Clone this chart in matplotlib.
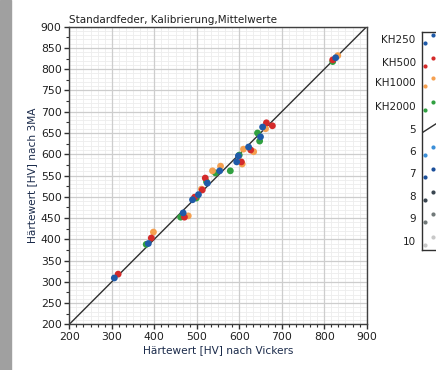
import numpy as np
import matplotlib
matplotlib.use("Agg")
import matplotlib.pyplot as plt
from matplotlib.ticker import MultipleLocator, AutoMinorLocator

# Vickers hardness (x) vs 3MA hardness (y), mean values per sample
kh250_x = [306, 386, 468, 490, 504, 525, 554, 594, 598, 622, 650, 655, 827]
kh250_y = [309, 390, 462, 493, 505, 532, 561, 582, 596, 617, 641, 664, 827]
kh500_x = [315, 393, 471, 495, 513, 520, 605, 627, 664, 678, 820]
kh500_y = [318, 403, 452, 499, 516, 544, 582, 610, 674, 667, 822]
kh1000_x = [398, 480, 511, 537, 556, 607, 610, 634, 662, 832]
kh1000_y = [417, 455, 518, 561, 572, 577, 612, 606, 660, 832]
kh2000_x = [381, 462, 499, 523, 544, 579, 600, 643, 648, 820]
kh2000_y = [388, 452, 497, 535, 556, 561, 598, 650, 631, 818]

ref_line = [200, 900]

legend_labels = ["KH250", "KH500", "KH1000", "KH2000", "5", "6", "7", "8", "9", "10"]
legend_colors = ["#1f5aa8", "#d42a2a", "#f5a050", "#30a040", "#303030",
                 "#3c8fd8", "#1b4f9a", "#3a4650", "#727a7a", "#c8c8c8"]

txt_color = "#1a2a4a"

fig = plt.figure(figsize=(4.36, 3.70), dpi=100)
fig.patches.append(plt.Rectangle((0, 0), 11 / 436, 1, transform=fig.transFigure,
                                 color="#a0a0a0", zorder=0))

ax = fig.add_axes([69.3 / 436, 45.7 / 370, 297.4 / 436, 297.6 / 370])

# grid
ax.xaxis.set_major_locator(MultipleLocator(100))
ax.xaxis.set_minor_locator(AutoMinorLocator(6))
ax.yaxis.set_major_locator(MultipleLocator(50))
ax.yaxis.set_minor_locator(MultipleLocator(25))
for v in np.arange(200, 901, 10):
    ax.axhline(v, color="#ededed", lw=0.6, zorder=0)
for v in np.arange(200, 901, 100 / 6):
    ax.axvline(v, color="#ededed", lw=0.6, zorder=0)
ax.grid(True, which="major", color="#cdcdcd", lw=0.9, zorder=0.5)

ax.plot(ref_line, ref_line, color="#303030", lw=1.0, zorder=2)

series = [(kh250_x, kh250_y), (kh500_x, kh500_y), (kh1000_x, kh1000_y), (kh2000_x, kh2000_y)]
draw_order = [3, 2, 1, 0]
for i in draw_order:
    xs, ys = series[i]
    ax.scatter(xs, ys, s=24, color=legend_colors[i], edgecolors="none", zorder=3 + (3 - i) * 0.1)

ax.set_xlim(200, 900)
ax.set_ylim(200, 900)
for s in ax.spines.values():
    s.set_color("#404040")
    s.set_linewidth(1.0)
ax.tick_params(which="major", length=3.5, width=1, color="#303030",
               labelsize=7.8, labelcolor="#202020", pad=2)
ax.tick_params(which="minor", length=2, width=0.8, color="#303030")

ax.set_title("Standardfeder, Kalibrierung,Mittelwerte", loc="left",
             fontsize=7.5, color="#202020", pad=3)
ax.set_xlabel("Härtewert [HV] nach Vickers", fontsize=7.6, color=txt_color, labelpad=2)
ax.set_ylabel("Härtewert [HV] nach 3MA", fontsize=7.6, color=txt_color, labelpad=3)

# legend block on the right, partly cut off
lax = fig.add_axes([421.7 / 436, 120 / 370, 30 / 436, 218.3 / 370])
lax.set_xlim(0, 30)
lax.set_ylim(218.3, 0)
lax.set_xticks([])
lax.set_yticks([])
for s in lax.spines.values():
    s.set_color("#303030")
    s.set_linewidth(1.0)

row_y = [8.3, 31.0, 51.6, 75.3, 98.3, 120.0, 142.3, 165.0, 187.3, 210.0]
for k, (lab, col) in enumerate(zip(legend_labels, legend_colors)):
    yy = row_y[k]
    lax.text(-6, yy, lab, ha="right", va="center", fontsize=7.5,
             color="#202020", clip_on=False)
    if lab == "5":
        lax.plot([0, 14], [yy + 3, yy - 6], color=col, lw=1.0)
    else:
        lax.plot([3.3, 11.3], [yy + 3, yy - 5], ls="none", marker="o",
                 ms=3.0, color=col, mec="none")

fig.savefig("out.png", dpi=100)
